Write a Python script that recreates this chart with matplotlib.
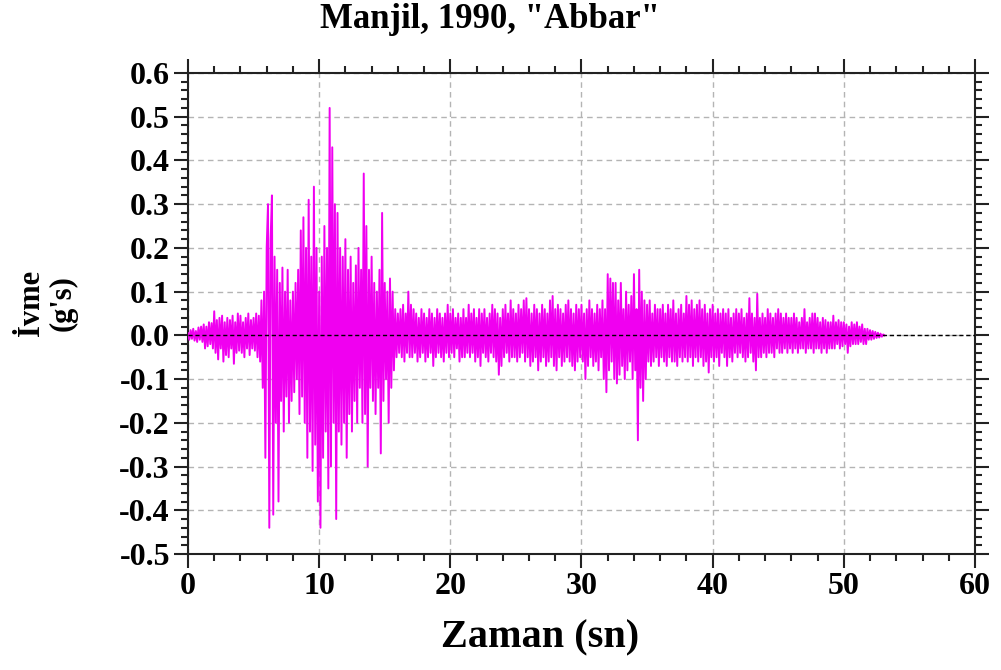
import numpy as np
import matplotlib
matplotlib.use("Agg")
import matplotlib.pyplot as plt
from matplotlib.ticker import MultipleLocator

# Acceleration peaks (g), one row per second, 0.1 s apart
dt = 0.1
accel = [
    0.005, -0.01, 0.012, -0.008, 0.015, -0.012, 0.01, -0.015, 0.018, -0.01,
    0.02, -0.015, 0.025, -0.03, 0.02, -0.025, 0.03, -0.02, 0.028, -0.03,
    0.055, -0.04, 0.035, -0.055, 0.04, -0.03, 0.045, -0.06, 0.03, -0.045,
    0.04, -0.05, 0.035, -0.03, 0.045, -0.065, 0.03, -0.04, 0.05, -0.035,
    0.045, -0.04, 0.03, -0.05, 0.04, -0.03, 0.05, -0.045, 0.035, -0.03,
    0.04, -0.035, 0.05, -0.05, 0.045, -0.06, 0.08, -0.12, 0.1, -0.28,
    0.2, 0.3, -0.44, 0.22, 0.32, -0.41, 0.18, -0.2, 0.15, -0.38,
    0.12, -0.15, 0.155, -0.22, 0.1, -0.14, 0.15, -0.2, 0.08, -0.15,
    0.1, -0.13, 0.12, -0.1, 0.15, -0.18, 0.24, -0.14, 0.27, -0.2,
    0.2, -0.28, 0.31, -0.22, 0.18, -0.31, 0.34, -0.25, 0.2, -0.38,
    0.1, -0.44, 0.18, -0.28, 0.25, -0.22, 0.2, -0.35, 0.52, -0.3,
    0.43, -0.2, 0.3, -0.42, 0.28, -0.22, 0.2, -0.25, 0.18, -0.2,
    0.22, -0.28, 0.15, -0.18, 0.18, -0.22, 0.12, -0.15, 0.16, -0.2,
    0.2, -0.12, 0.15, -0.2, 0.37, -0.18, 0.25, -0.3, 0.15, -0.12,
    0.18, -0.15, 0.12, -0.18, 0.1, -0.12, 0.15, -0.27, 0.28, -0.15,
    0.12, -0.1, 0.1, -0.2, 0.13, -0.12, 0.1, -0.08, 0.06, -0.05,
    0.05, -0.04, 0.06, -0.05, 0.07, -0.06, 0.05, -0.04, 0.1, -0.05,
    0.07, -0.05, 0.06, -0.04, 0.05, -0.06, 0.04, -0.05, 0.06, -0.04,
    0.05, -0.06, 0.04, -0.05, 0.06, -0.04, 0.05, -0.07, 0.04, -0.05,
    0.06, -0.04, 0.05, -0.05, 0.04, -0.06, 0.05, -0.04, 0.07, -0.05,
    0.05, -0.04, 0.06, -0.05, 0.04, -0.03, 0.05, -0.06, 0.04, -0.05,
    0.06, -0.05, 0.04, -0.04, 0.07, -0.05, 0.05, -0.04, 0.06, -0.06,
    0.04, -0.05, 0.06, -0.07, 0.05, -0.04, 0.06, -0.05, 0.04, -0.06,
    0.05, -0.04, 0.07, -0.05, 0.06, -0.06, 0.05, -0.09, 0.04, -0.07,
    0.06, -0.05, 0.07, -0.04, 0.05, -0.06, 0.08, -0.05, 0.06, -0.05,
    0.05, -0.06, 0.07, -0.05, 0.06, -0.04, 0.08, -0.06, 0.085, -0.05,
    0.06, -0.07, 0.05, -0.06, 0.07, -0.05, 0.06, -0.08, 0.05, -0.06,
    0.07, -0.05, 0.06, -0.07, 0.05, -0.06, 0.08, -0.05, 0.09, -0.07,
    0.06, -0.08, 0.07, -0.05, 0.06, -0.07, 0.05, -0.06, 0.07, -0.05,
    0.08, -0.06, 0.06, -0.07, 0.05, -0.08, 0.07, -0.06, 0.06, -0.05,
    0.07, -0.06, 0.05, -0.1, 0.06, -0.07, 0.08, -0.05, 0.06, -0.07,
    0.05, -0.06, 0.07, -0.08, 0.06, -0.05, 0.08, -0.1, 0.06, -0.13,
    0.14, -0.08, 0.13, -0.06, 0.12, -0.1, 0.12, -0.11, 0.08, -0.09,
    0.12, -0.07, 0.06, -0.1, 0.1, -0.08, 0.07, -0.06, 0.09, -0.1,
    0.14, -0.08, 0.06, -0.24, 0.15, -0.12, 0.1, -0.15, 0.08, -0.1,
    0.07, -0.06, 0.08, -0.07, 0.05, -0.06, 0.07, -0.05, 0.06, -0.07,
    0.06, -0.05, 0.07, -0.06, 0.05, -0.07, 0.07, -0.05, 0.06, -0.06,
    0.08, -0.06, 0.05, -0.07, 0.06, -0.05, 0.07, -0.06, 0.05, -0.05,
    0.09, -0.06, 0.07, -0.05, 0.08, -0.07, 0.06, -0.05, 0.07, -0.06,
    0.08, -0.05, 0.06, -0.07, 0.07, -0.06, 0.05, -0.085, 0.06, -0.05,
    0.07, -0.06, 0.05, -0.05, 0.06, -0.07, 0.05, -0.04, 0.06, -0.05,
    0.05, -0.07, 0.06, -0.05, 0.04, -0.06, 0.05, -0.04, 0.06, -0.05,
    0.05, -0.04, 0.06, -0.05, 0.04, -0.06, 0.05, -0.05, 0.085, -0.04,
    0.05, -0.06, 0.04, -0.08, 0.095, -0.05, 0.04, -0.05, 0.05, -0.04,
    0.04, -0.05, 0.06, -0.04, 0.05, -0.04, 0.04, -0.05, 0.05, -0.03,
    0.06, -0.04, 0.05, -0.04, 0.04, -0.03, 0.05, -0.04, 0.04, -0.03,
    0.04, -0.04, 0.05, -0.03, 0.04, -0.04, 0.03, -0.03, 0.04, -0.03,
    0.06, -0.04, 0.03, -0.03, 0.04, -0.03, 0.05, -0.04, 0.05, -0.03,
    0.04, -0.03, 0.03, -0.04, 0.04, -0.03, 0.035, -0.04, 0.03, -0.03,
    0.03, -0.03, 0.045, -0.03, 0.03, -0.02, 0.035, -0.03, 0.03, -0.025,
    0.03, -0.02, 0.025, -0.04, 0.02, -0.025, 0.03, -0.02, 0.025, -0.02,
    0.03, -0.02, 0.02, -0.015, 0.025, -0.02, 0.015, -0.02, 0.015, -0.01,
    0.012, -0.01, 0.01, -0.008, 0.008, -0.006, 0.006, -0.005, 0.004, -0.003,
    0.002, 0.0,
]
time = np.arange(len(accel)) * dt

xticks = [0, 10, 20, 30, 40, 50, 60]
yticks = [-0.5, -0.4, -0.3, -0.2, -0.1, 0.0, 0.1, 0.2, 0.3, 0.4, 0.5, 0.6]

plt.rcParams['font.family'] = ['Liberation Serif', 'DejaVu Serif']
plt.rcParams['font.weight'] = 'bold'

fig = plt.figure(figsize=(10.01, 6.70), dpi=100)
ax = fig.add_axes([0.1878, 0.1731, 0.7862, 0.7180])

ax.plot(time, accel, color='#f000f0', lw=1.4, zorder=3)
ax.axhline(0, color='black', lw=1.0, ls=(0, (3, 2)), zorder=4)

ax.set_xlim(0, 60)
ax.set_ylim(-0.5, 0.6)
ax.set_xticks(xticks)
ax.set_yticks(yticks)
ax.set_xticklabels([str(v) for v in xticks])
ax.set_yticklabels(['%.1f' % v for v in yticks])
ax.xaxis.set_minor_locator(MultipleLocator(2))
ax.yaxis.set_minor_locator(MultipleLocator(0.02))

ax.grid(True, which='major', color='#b4b4b4', lw=1.0, ls=(0, (4, 3)), zorder=1)

ax.tick_params(which='both', direction='out', top=True, right=True,
               width=1.5, color='#222222')
ax.tick_params(which='major', length=10, labelsize=23, pad=3)
ax.tick_params(which='minor', length=5)
for lab in ax.get_xticklabels() + ax.get_yticklabels():
    lab.set_fontweight('bold')
for sp in ax.spines.values():
    sp.set_linewidth(1.5)
    sp.set_color('#222222')

fig.text(490 / 1001, 1 - 20 / 670, 'Manjil, 1990, "Abbar"', ha='center',
         va='center', fontsize=25, fontweight='bold')
fig.text(540 / 1001, 1 - 638 / 670, 'Zaman (sn)', ha='center', va='center',
         fontsize=29, fontweight='bold')
fig.text(47 / 1001, 1 - 303 / 670, "İvme\n(g's)", ha='center', va='center',
         rotation=90, fontsize=22, fontweight='bold', multialignment='center',
         linespacing=1.1)

fig.savefig('out.png', dpi=100)
